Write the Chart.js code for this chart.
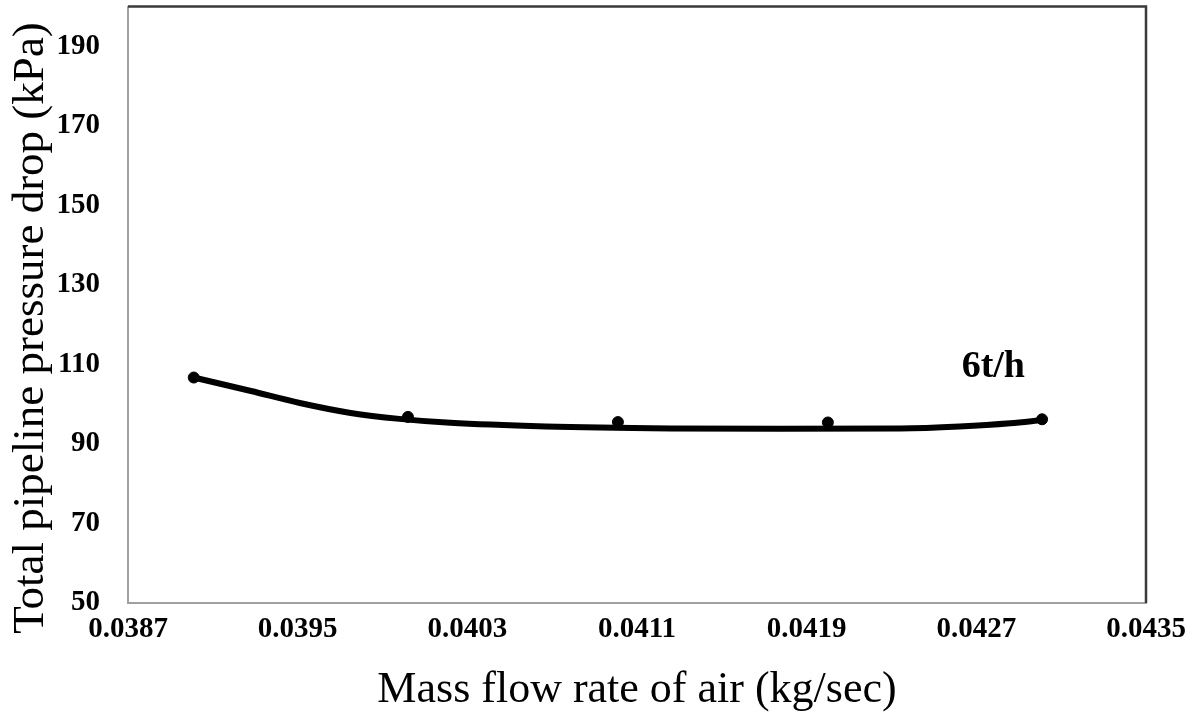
<!DOCTYPE html>
<html>
<head>
<meta charset="utf-8">
<script src="https://cdn.jsdelivr.net/npm/chart.js@4/dist/chart.umd.min.js"></script>
<style>
  html, body { margin: 0; padding: 0; background: #fff; }
  #wrap { width: 1192px; height: 713px; }
</style>
</head>
<body>
<div id="wrap"><canvas id="chart1"></canvas></div>
<script>
// measured points (markers)
const airFlow = [0.03901, 0.04002, 0.04101, 0.04200, 0.04301];
const pressureDrop = [106.7, 96.8, 95.5, 95.4, 96.2];

// trend curve
const curveX = [0.03901, 0.03928, 0.03951, 0.03975, 0.03998, 0.04022, 0.04067, 0.04126, 0.04177, 0.04234, 0.04262, 0.04286, 0.04301];
const curveY = [106.7, 103.3, 100.3, 97.8, 96.3, 95.3, 94.4, 93.9, 93.8, 93.9, 94.4, 95.2, 96.0];

const xTicks = [0.0387, 0.0395, 0.0403, 0.0411, 0.0419, 0.0427, 0.0435];
const yTicks = [50, 70, 90, 110, 130, 150, 170, 190];

const seriesLabel = '6t/h';
const labelPos = { x: 0.04278, y: 109.3 };
const yTitle = 'Total pipeline pressure drop (kPa)';

const serif = '"Liberation Serif", "Times New Roman", serif';

// frame, y title, series label
const extras = {
  id: 'extras',
  afterDraw(chart) {
    const ctx = chart.ctx;
    const a = chart.chartArea;
    ctx.save();
    ctx.strokeStyle = '#3a3a3a';
    ctx.lineWidth = 2.5;
    ctx.beginPath();
    ctx.moveTo(a.left, a.top);
    ctx.lineTo(a.right, a.top);
    ctx.lineTo(a.right, a.bottom);
    ctx.stroke();

    const xs = chart.scales.x, ys = chart.scales.y;
    ctx.fillStyle = '#000';
    ctx.font = 'bold 38px ' + serif;
    ctx.textAlign = 'center';
    ctx.textBaseline = 'middle';
    ctx.fillText(seriesLabel, xs.getPixelForValue(labelPos.x), ys.getPixelForValue(labelPos.y));

    ctx.translate(31, 328);
    ctx.rotate(-Math.PI / 2);
    ctx.font = '45px ' + serif;
    ctx.fillText(yTitle, 0, 0);
    ctx.restore();
  }
};

const chartConfig = {
  type: 'scatter',
  data: {
    datasets: [
      {
        label: 'curve',
        data: curveX.map((x, i) => ({ x: x, y: curveY[i] })),
        showLine: true,
        borderColor: '#000',
        borderWidth: 6,
        pointRadius: 0,
        cubicInterpolationMode: 'monotone',
        fill: false
      },
      {
        label: seriesLabel,
        data: airFlow.map((x, i) => ({ x: x, y: pressureDrop[i] })),
        showLine: false,
        backgroundColor: '#000',
        borderColor: '#000',
        pointRadius: 5.5,
        pointHoverRadius: 5.5
      }
    ]
  },
  options: {
    responsive: true,
    maintainAspectRatio: false,
    animation: false,
    layout: { padding: { top: 0, right: 46, bottom: 0, left: 0 } },
    plugins: { legend: { display: false }, tooltip: { enabled: false } },
    scales: {
      x: {
        type: 'linear',
        min: 0.0387,
        max: 0.0435,
        afterBuildTicks(scale) { scale.ticks = xTicks.map(v => ({ value: v })); },
        afterFit(scale) {
          scale.height = 110;
          scale.paddingLeft = 0;
          scale.paddingRight = 0;
          scale.paddingTop = 0;
          scale.paddingBottom = 0;
        },
        grid: { display: false, drawTicks: false },
        border: { color: '#a0a0a0', width: 2 },
        ticks: {
          color: '#000',
          padding: 9,
          maxRotation: 0,
          font: { family: serif, size: 29, weight: 'bold' },
          callback: v => v.toFixed(4)
        },
        title: {
          display: true,
          text: 'Mass flow rate of air (kg/sec)',
          color: '#000',
          font: { family: serif, size: 44, lineHeight: 1 },
          padding: { top: 0, bottom: 1 }
        }
      },
      y: {
        type: 'linear',
        min: 50,
        max: 200,
        afterBuildTicks(scale) { scale.ticks = yTicks.map(v => ({ value: v })); },
        afterFit(scale) {
          scale.width = 128;
          scale.paddingTop = 0;
          scale.paddingBottom = 0;
        },
        grid: { display: false, drawTicks: false },
        border: { color: '#a0a0a0', width: 2 },
        ticks: {
          color: '#000',
          padding: 28,
          font: { family: serif, size: 29, weight: 'bold' }
        }
      }
    }
  },
  plugins: [extras]
};

new Chart(document.getElementById('chart1').getContext('2d'), chartConfig);
</script>
</body>
</html>
